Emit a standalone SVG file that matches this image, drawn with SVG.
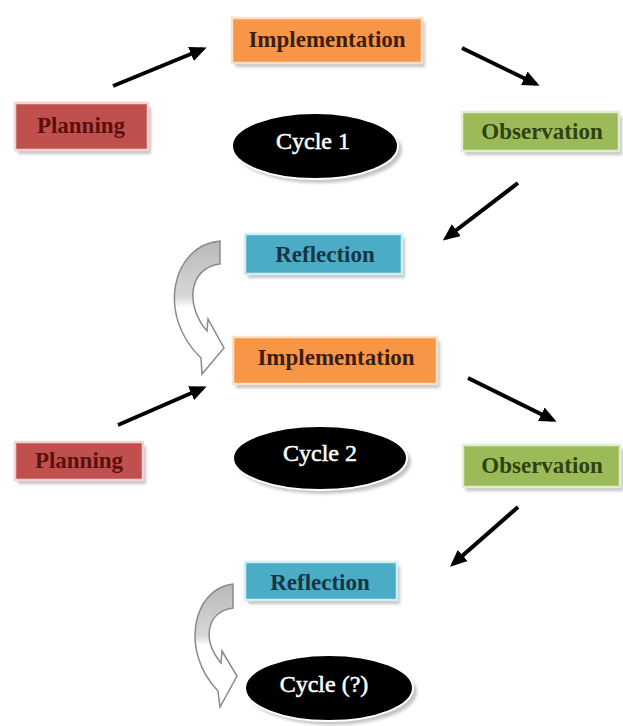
<svg xmlns="http://www.w3.org/2000/svg" width="623" height="726" viewBox="0 0 623 726">
<style>
.lbl{font-family:"Liberation Serif","Times New Roman",serif;font-weight:bold;font-size:23px;text-anchor:middle}
.cl{font-size:24px;font-weight:normal;stroke:#fff;stroke-width:0.5}
.shadow{fill:#c4c4c4;filter:url(#blur)}
.impl{fill:#f79646;stroke:#fde0c8;stroke-width:2.5}
.plan{fill:#c0504d;stroke:#f6d3d2;stroke-width:2.5}
.obs{fill:#9bbb59;stroke:#e2edcf;stroke-width:2.5}
.refl{fill:#4bacc6;stroke:#d3edf4;stroke-width:2.5}
.cyc{fill:#000;stroke:#fff;stroke-width:2}
.conn{stroke:#000;stroke-width:4;fill:none;marker-end:url(#ah)}
.curve{fill:url(#cg);stroke:#8a8a8a;stroke-width:1.5}
</style>
<defs>
<filter id="blur" x="-10%" y="-20%" width="120%" height="140%"><feGaussianBlur stdDeviation="1.5"/></filter>
<marker id="ah" markerUnits="userSpaceOnUse" markerWidth="17" markerHeight="15" viewBox="0 0 17 15" refX="13" refY="7.5" orient="auto"><path d="M0,0 L17,7.5 L0,15 z" fill="#000"/></marker>
<linearGradient id="cg" x1="0" y1="0" x2="0" y2="1"><stop offset="0" stop-color="#b8b8b8"/><stop offset="0.42" stop-color="#d8d8d8"/><stop offset="0.5" stop-color="#fff"/><stop offset="1" stop-color="#fff"/></linearGradient>
</defs>
<rect width="623" height="726" fill="#fff"/>

<g id="connectors">
<line class="conn" x1="113" y1="86" x2="203" y2="49"/>
<line class="conn" x1="462" y1="48" x2="536" y2="84"/>
<line class="conn" x1="518" y1="183" x2="446" y2="238"/>
<line class="conn" x1="118" y1="425" x2="203" y2="388"/>
<line class="conn" x1="468" y1="378" x2="553" y2="420"/>
<line class="conn" x1="518" y1="507" x2="453" y2="564"/>
<path class="curve" d="M220,241 C172,245 156,315 201,358 L202,374 L224,348 L208,319 L207,331 C185,306 188,268 220,264 Z"/>
<path class="curve" d="M233,584 C192,589 180,652 218,691 L220,707 L237,676 L222,651 L221,663 C202,640 206,612 233,608 Z"/>
</g>

<g id="impl1">
<rect class="shadow" x="235" y="22" width="190" height="45"/>
<rect class="impl" x="232" y="18" width="190" height="45"/>
<text class="lbl" x="327" y="47" fill="#3d1e0c">Implementation</text>
</g>
<g id="plan1">
<rect class="shadow" x="18" y="107" width="133" height="47"/>
<rect class="plan" x="15" y="103" width="133" height="47"/>
<text class="lbl" x="81" y="133" fill="#5a1010">Planning</text>
</g>
<g id="cycle1">
<ellipse class="shadow" cx="319" cy="150" rx="83" ry="33"/>
<ellipse class="cyc" cx="315" cy="146" rx="83" ry="33"/>
<text class="lbl cl" x="313" y="149" fill="#fff">Cycle 1</text>
</g>
<g id="obs1">
<rect class="shadow" x="465" y="116" width="157" height="39"/>
<rect class="obs" x="462" y="112" width="157" height="39"/>
<text class="lbl" x="542" y="139" fill="#2e4211">Observation</text>
</g>
<g id="refl1">
<rect class="shadow" x="248" y="238" width="157" height="40"/>
<rect class="refl" x="245" y="234" width="157" height="40"/>
<text class="lbl" x="325" y="262" fill="#153545">Reflection</text>
</g>
<g id="impl2">
<rect class="shadow" x="236" y="341" width="204" height="47"/>
<rect class="impl" x="233" y="337" width="204" height="47"/>
<text class="lbl" x="336" y="365" fill="#3d1e0c">Implementation</text>
</g>
<g id="plan2">
<rect class="shadow" x="18" y="446" width="128" height="38"/>
<rect class="plan" x="15" y="442" width="128" height="38"/>
<text class="lbl" x="79" y="468" fill="#5a1010">Planning</text>
</g>
<g id="cycle2">
<ellipse class="shadow" cx="324" cy="462" rx="87" ry="32"/>
<ellipse class="cyc" cx="320" cy="458" rx="87" ry="32"/>
<text class="lbl cl" x="320" y="461" fill="#fff">Cycle 2</text>
</g>
<g id="obs2">
<rect class="shadow" x="466" y="449" width="157" height="42"/>
<rect class="obs" x="463" y="445" width="157" height="42"/>
<text class="lbl" x="542" y="473" fill="#2e4211">Observation</text>
</g>
<g id="refl2">
<rect class="shadow" x="248" y="566" width="152" height="38"/>
<rect class="refl" x="245" y="562" width="152" height="38"/>
<text class="lbl" x="320" y="590" fill="#153545">Reflection</text>
</g>
<g id="cycle3">
<ellipse class="shadow" cx="333" cy="692" rx="84" ry="33"/>
<ellipse class="cyc" cx="329" cy="688" rx="84" ry="33"/>
<text class="lbl cl" x="324" y="692" fill="#fff">Cycle (?)</text>
</g>
</svg>
